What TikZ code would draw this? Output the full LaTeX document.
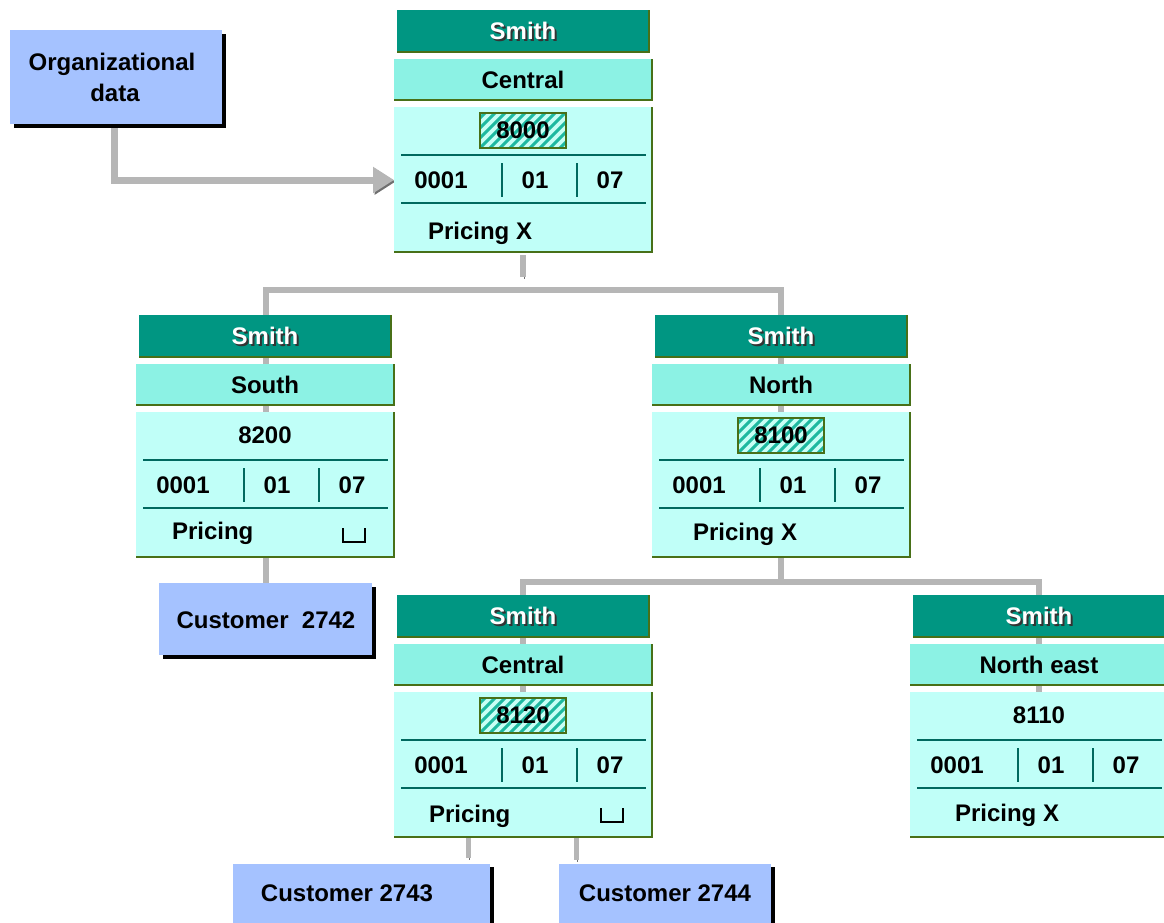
\documentclass[tikz,border=0pt]{standalone}
\usepackage{fontspec}
\setmainfont{Liberation Sans}
\usetikzlibrary{arrows.meta,backgrounds}
\definecolor{smithc}{RGB}{0,150,130}
\definecolor{regionc}{RGB}{140,242,228}
\definecolor{bodyc}{RGB}{192,255,248}
\definecolor{edgec}{RGB}{72,112,24}
\definecolor{divc}{RGB}{0,105,95}
\definecolor{custc}{RGB}{165,194,255}
\definecolor{connc}{RGB}{182,182,182}
\definecolor{conndark}{RGB}{112,112,112}
\definecolor{stripec}{RGB}{30,185,160}
\definecolor{hatchbg}{RGB}{200,255,245}
\tikzset{
 txt/.style={font=\fontsize{24}{28}\selectfont\bfseries, inner sep=0pt, outer sep=0pt},
 basetxt/.style={txt, anchor=base},
 smithbar/.style={fill=smithc, minimum width=252pt, minimum height=42pt, inner sep=0pt, outer sep=0pt},
 regionbar/.style={fill=regionc, minimum width=258pt, minimum height=41pt, inner sep=0pt, outer sep=0pt},
 bodybox/.style={fill=bodyc, minimum width=258pt, minimum height=145pt, inner sep=0pt, outer sep=0pt},
 greenedge/.style={draw=edgec, line width=2pt},
 divider/.style={draw=divc, line width=2pt},
 hatchbox/.style={draw=edgec, line width=1.5pt, fill=hatchbg, minimum width=86pt, minimum height=35pt, inner sep=0pt, outer sep=0pt,
   path picture={\foreach \i in {-50,-40,...,90}{\draw[stripec, line width=3pt] ([xshift=\i pt]path picture bounding box.south west) -- ++(45,-45);}}},
 custbox/.style={fill=custc, inner sep=0pt, outer sep=0pt},
 blackshadow/.style={draw=black, line width=3.5pt},
 conn/.style={draw=connc, line width=6pt, line join=miter,
   preaction={draw=conndark, transform canvas={shift={(1.6pt,-1.6pt)}}}},
 bracketline/.style={draw=black, line width=1.5pt},
}
% #1 name, #2 L, #3 T, #4 region, #5 number, #6 hatch, #7 pricing X?, #8 pricing x, #9 pricing baseline
\newcommand\orgunit[9]{%
\begin{scope}[shift={(#2,#3)}]
 \node[smithbar] (#1s) at (129,21) {};
 \draw[greenedge] (#1s.south west) -- (#1s.south east) -- (#1s.north east);
 \node[basetxt, text=black!80] (#1sh) at (131,31.6) {Smith};
 \node[basetxt, text=white] (#1st) at (129,29.6) {Smith};
 \node[regionbar] (#1r) at (129,69.5) {};
 \draw[greenedge] (#1r.south west) -- (#1r.south east) -- (#1r.north east);
 \node[basetxt] (#1rt) at (129,78) {#4};
 \node[bodybox] (#1b) at (129,169.5) {};
 \draw[greenedge] (#1b.south west) -- (#1b.south east) -- (#1b.north east);
 \ifnum#6=1 \node[hatchbox] (#1h) at (129,120.5) {};\fi
 \node[basetxt] (#1n) at (129,128) {#5};
 \draw[divider] (7,145) -- (252,145);
 \draw[divider] (7,193) -- (252,193);
 \draw[divider] (108,153) -- (108,187);
 \draw[divider] (183,153) -- (183,187);
 \node[basetxt] (#1c) at (47,178) {0001};
 \node[basetxt] (#1d) at (141,178) {01};
 \node[basetxt] (#1e) at (216,178) {07};
 \coordinate (#1row) at (0,170);
 \ifnum#7=1
   \node[basetxt, anchor=base west] (#1p) at (#8,#9) {Pricing X};
 \else
   \node[basetxt, anchor=base west] (#1p) at (#8,#9) {Pricing};
   \draw[bracketline] (207,213) -- (207,227) -- (229,227) -- (229,213);
 \fi
\end{scope}}
\begin{document}
\begin{tikzpicture}[x=1pt,y=-1pt]
\useasboundingbox (0,0) rectangle (1164,922);

% units
\orgunit{u1}{394}{10}{Central}{8000}{1}{1}{34}{229}
\orgunit{u2}{136}{315}{South}{8200}{0}{0}{36}{224}
\orgunit{u3}{652}{315}{North}{8100}{1}{1}{41}{225}
\orgunit{u4}{394}{595}{Central}{8120}{1}{0}{35}{227}
\orgunit{u5}{910}{595}{North east}{8110}{0}{1}{45}{226}

% customer / data boxes
\node[custbox, minimum width=212pt, minimum height=94pt] (org) at (116,77) {};
\draw[blackshadow] ([shift={(4,2)}]org.south west) -- ([shift={(2,2)}]org.south east) -- ([shift={(2,4)}]org.north east);
\node[basetxt] (orgt1) at (112,70) {Organizational};
\node[basetxt] (orgt2) at (115,101) {data};

\node[custbox, minimum width=213pt, minimum height=72pt] (c2742) at (265.5,619) {};
\draw[blackshadow] ([shift={(4,2)}]c2742.south west) -- ([shift={(2,2)}]c2742.south east) -- ([shift={(2,4)}]c2742.north east);
\node[basetxt] (c2742t) at (266,628) {Customer~~2742};

\node[custbox, minimum width=257pt, minimum height=80pt] (c2743) at (361.5,904) {};
\draw[blackshadow] ([shift={(2,3)}]c2743.north east) -- ([shift={(2,0)}]c2743.south east);
\node[basetxt] (c2743t) at (347,901) {Customer 2743};

\node[custbox, minimum width=212pt, minimum height=80pt] (c2744) at (665,904) {};
\draw[blackshadow] ([shift={(2,3)}]c2744.north east) -- ([shift={(2,0)}]c2744.south east);
\node[basetxt] (c2744t) at (665,901) {Customer 2744};

% connectors behind everything
\begin{scope}[on background layer]
\fill[white] (0,0) rectangle (1164,922);
\coordinate (u1stub) at (523,277);
\draw[conn] ([yshift=-3pt]u1b.south) -- (u1stub);
\coordinate (bus1) at (523,289.5);
\coordinate (bus2) at (781,581.5);
\draw[conn] (c2742.north) |- (bus1) -| (bus2);
\draw[conn] (u4b.north) |- (bus2) -| (u5b.north);
\coordinate (s4a) at (468,858);
\coordinate (s4b) at (576,860);
\draw[conn, line width=5pt] (s4a |- u4b.south) -- (s4a);
\draw[conn, line width=5pt] (s4b |- u4b.south) -- (s4b);
\draw[conn, line width=7pt, -{Triangle[length=21pt,width=25pt]}] ([xshift=-1.5pt]org.south) |- (u1row);
\end{scope}
\end{tikzpicture}
\end{document}
